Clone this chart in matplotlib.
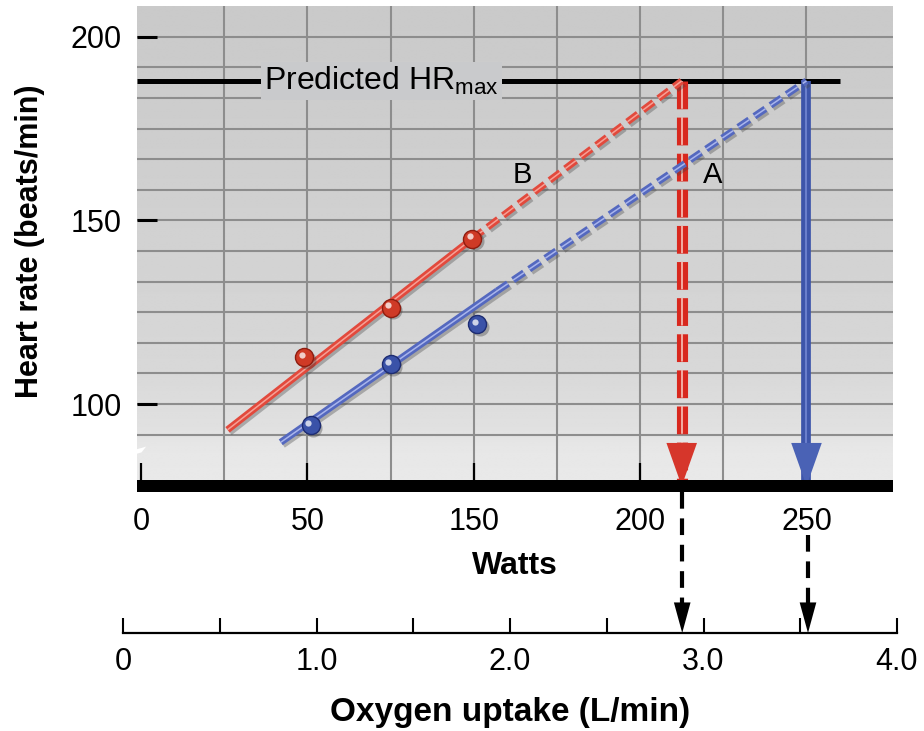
import numpy as np
import matplotlib
matplotlib.use("Agg")
import matplotlib.pyplot as plt
import matplotlib.patheffects as pe
from matplotlib import transforms
from matplotlib.patches import Polygon
from matplotlib.lines import Line2D

plt.rcParams['font.family'] = ['Liberation Sans', 'DejaVu Sans']

# ---------------- data ----------------
watts_ticks = [0, 50, 150, 200, 250]          # printed Watts axis labels (equally spaced)
watts_tick_labels = ["0", "50", "150", "200", "250"]
hr_ticks = [100, 150, 200]
vo2_ticks = [0, 0.5, 1.0, 1.5, 2.0, 2.5, 3.0, 3.5, 4.0]
vo2_tick_labels = ["0", "", "1.0", "", "2.0", "", "3.0", "", "4.0"]

# Subject A (blue)
a_watts = [52, 100, 151]
a_hr = [94.3, 110.9, 121.8]
a_line_watts = [42, 157, 250]
a_line_hr = [89.6, 130.8, 188]
# Subject B (red)
b_watts = [49, 100, 149]
b_hr = [112.8, 126.2, 145.0]
b_line_watts = [26, 149, 212.5]
b_line_hr = [93, 145, 188]

hr_max = 188
hr_max_line_end = 260
vo2_max_a = 3.54
vo2_max_b = 2.89

# ---------------- scale for printed Watts axis ----------------
ext_vals = np.array([-50] + watts_ticks + [300], dtype=float)
ext_pos = np.arange(len(ext_vals), dtype=float) - 1


def fwd(v):
    return np.interp(np.asarray(v, dtype=float), ext_vals, ext_pos)


def inv(p):
    return np.interp(np.asarray(p, dtype=float), ext_pos, ext_vals)


W, H = 924, 731
fig = plt.figure(figsize=(W / 100, H / 100), dpi=100)
px = 0.72  # points per pixel

ax_l, ax_r, ax_t, ax_b = 137, 893, 6, 486
ax = fig.add_axes([ax_l / W, 1 - ax_b / H, (ax_r - ax_l) / W, (ax_b - ax_t) / H])
ax.set_xscale('function', functions=(fwd, inv))
ax.set_xlim(inv(-0.024), inv(4.52))
ax.set_ylim(77.7, 208.4)
ax.set_facecolor('none')

# gradient background
frac = np.linspace(0, 1, 256)
shade = np.interp(frac, [0, 0.08, 0.12, 0.25, 0.6, 1.0], [0.915, 0.905, 0.88, 0.845, 0.815, 0.79])
grad = np.repeat(shade[:, None], 2, axis=1)
ax.imshow(grad, extent=(0, 1, 0, 1), transform=ax.transAxes, origin='lower',
          cmap='gray', vmin=0, vmax=1, aspect='auto', zorder=0, interpolation='bilinear')

# grid
grid_watts = [25, 50, 100, 150, 175, 200, 225, 250]
for gx in grid_watts:
    ax.axvline(gx, color='#8d8d8d', lw=1.5, zorder=0.5)
for gy in np.arange(100 - 50 / 6, 204, 50 / 6):
    ax.axhline(gy, color='#8d8d8d', lw=1.5, zorder=0.5)

# spines / ticks
for s in ['top', 'right', 'left']:
    ax.spines[s].set_visible(False)
ax.spines['bottom'].set_linewidth(12 * px)
ax.spines['bottom'].set_capstyle('butt')
ax.spines['bottom'].set_zorder(6)
ax.set_xticks(watts_ticks)
ax.set_xticklabels(watts_tick_labels)
ax.xaxis.set_minor_locator(matplotlib.ticker.NullLocator())
ax.set_yticks(hr_ticks)
ax.yaxis.set_minor_locator(matplotlib.ticker.NullLocator())
ax.tick_params(axis='x', direction='in', length=23 * px, width=1.6, pad=15, labelsize=22)
ax.tick_params(axis='y', direction='in', length=20 * px, width=2.2, pad=11, labelsize=22)
for t in ax.yaxis.get_major_ticks():
    t.tick1line.set_zorder(7)

# axis break mark
ax.add_patch(Polygon([[-0.012, 0.062], [0.006, 0.07], [0.012, 0.082], [-0.006, 0.074]],
                     closed=True, transform=ax.transAxes, facecolor='white', edgecolor='none',
                     clip_on=False, zorder=5))

# Predicted HR max line
ax.plot([ax.get_xlim()[0], hr_max_line_end], [hr_max, hr_max], color='black', lw=3.6, zorder=2,
        solid_capstyle='butt')
ax.text(37, hr_max, r'Predicted HR$_{\mathregular{max}}$', fontsize=23, ha='left', va='center',
        zorder=3, bbox=dict(boxstyle='square,pad=0.1', facecolor='#c9cacc', edgecolor='none'))

shadow = [pe.SimpleLineShadow(offset=(1.5, -1.8), shadow_color='#444444', alpha=0.35), pe.Normal()]


def ribbon(xs, ys, color, stripe, dashed):
    lw = 5.0
    if dashed:
        dash = (9.5, 4.5)
        ls_main = (0, (dash[0] / lw, dash[1] / lw))
        ls_str = (0, (dash[0] / 1.1, dash[1] / 1.1))
    else:
        ls_main = '-'
        ls_str = '-'
    ax.plot(xs, ys, color=color, lw=lw, ls=ls_main, zorder=3, path_effects=shadow,
            solid_capstyle='butt', dash_capstyle='butt')
    ax.plot(xs, ys, color=stripe, lw=1.1, ls=ls_str, zorder=3.1,
            solid_capstyle='butt', dash_capstyle='butt')


red, red_stripe = '#e2493c', '#f6a096'
blue, blue_stripe = '#5468bf', '#a9b5ec'
ribbon(b_line_watts[:2], b_line_hr[:2], red, red_stripe, False)
ribbon(b_line_watts[1:], b_line_hr[1:], red, red_stripe, True)
ribbon(a_line_watts[:2], a_line_hr[:2], blue, blue_stripe, False)
ribbon(a_line_watts[1:], a_line_hr[1:], blue, blue_stripe, True)


def spheres(xs, ys, face, edge):
    sh = transforms.offset_copy(ax.transData, fig=fig, x=2.5, y=-2.5, units='dots')
    hl = transforms.offset_copy(ax.transData, fig=fig, x=-2.5, y=2.5, units='dots')
    ax.plot(xs, ys, 'o', ms=13, color='#333333', alpha=0.35, mec='none', transform=sh, zorder=4)
    ax.plot(xs, ys, 'o', ms=13, mfc=face, mec=edge, mew=1.0, zorder=4.1)
    ax.plot(xs, ys, 'o', ms=4.5, mfc='white', mec='none', alpha=0.75, transform=hl, zorder=4.2)


spheres(b_watts, b_hr, '#cf3a26', '#8e1d10')
spheres(a_watts, a_hr, '#3a52a8', '#1d2c72')

# vertical arrows to the Watts axis
y0 = ax.get_ylim()[0]
ax.plot([b_line_watts[-1]] * 2, [hr_max, y0], color='#d8281e', lw=8,
        ls=(0, (20 / 8, 6 / 8)), zorder=2, dash_capstyle='butt')
ax.plot([b_line_watts[-1]] * 2, [hr_max, y0], color='#f4b7ae', lw=1.3,
        ls=(0, (20 / 1.3, 6 / 1.3)), zorder=2.1, dash_capstyle='butt')
ax.annotate('', xy=(b_line_watts[-1], y0), xytext=(0, 44 * px), textcoords='offset points',
            arrowprops=dict(arrowstyle='-|>,head_length=3.1,head_width=1.1', mutation_scale=10,
                            color='#d6362b', lw=0, shrinkA=0, shrinkB=0), zorder=2.2)
ax.plot([a_line_watts[-1]] * 2, [hr_max, y0], color='#3d55aa', lw=7, zorder=2,
        solid_capstyle='butt')
ax.plot([a_line_watts[-1]] * 2, [hr_max, y0], color='#6a7fcc', lw=1.5, zorder=2.1,
        solid_capstyle='butt')
ax.annotate('', xy=(a_line_watts[-1], y0), xytext=(0, 44 * px), textcoords='offset points',
            arrowprops=dict(arrowstyle='-|>,head_length=3.1,head_width=1.1', mutation_scale=10,
                            color='#4a62b5', lw=0, shrinkA=0, shrinkB=0), zorder=2.2)

ax.text(164.6, 162.4, 'B', fontsize=21, ha='center', va='center', zorder=3)
ax.text(221.7, 162.4, 'A', fontsize=21, ha='center', va='center', zorder=3)

# Oxygen uptake axis
ax2 = fig.add_axes([123 / W, 1 - 633 / H, 774 / W, 0.01])
ax2.set_xlim(0, 4.0)
ax2.set_ylim(0, 1)
ax2.patch.set_visible(False)
for s in ['top', 'right', 'left']:
    ax2.spines[s].set_visible(False)
ax2.spines['bottom'].set_linewidth(1.6)
ax2.set_yticks([])
ax2.set_xticks(vo2_ticks)
ax2.set_xticklabels(vo2_tick_labels)
ax2.tick_params(axis='x', direction='in', length=15 * px, width=1.5, pad=10, labelsize=22)

blend = transforms.blended_transform_factory(ax2.transData, fig.transFigure)
for v, ystart in [(vo2_max_b, 492), (vo2_max_a, 535)]:
    fig.add_artist(Line2D([v, v], [1 - ystart / H, 1 - 606 / H], transform=blend, color='black',
                          lw=3.0, ls=(0, (12 / 3.0, 7 / 3.0)), dash_capstyle='butt'))
    ax2.annotate('', xy=(v, 0), xytext=(0, 30 * px), textcoords='offset points',
                 arrowprops=dict(arrowstyle='-|>,head_length=2.2,head_width=0.6', mutation_scale=10,
                                 color='black', lw=0, shrinkA=0, shrinkB=0), annotation_clip=False)

fig.text(30 / W, 1 - 241 / H, 'Heart rate (beats/min)', rotation=90, fontsize=22,
         fontweight='bold', ha='center', va='center')
fig.text(515 / W, 1 - 566 / H, 'Watts', fontsize=23, fontweight='bold', ha='center', va='center')
fig.text(510 / W, 1 - 712 / H, 'Oxygen uptake (L/min)', fontsize=24, fontweight='bold',
         ha='center', va='center')

fig.savefig('out.png', dpi=100, facecolor='white')
